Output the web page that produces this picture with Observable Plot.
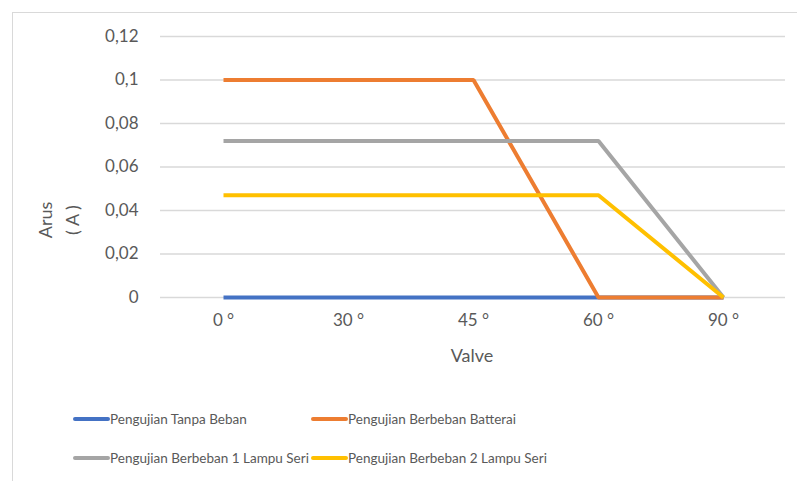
<!DOCTYPE html>
<html>
<head>
<meta charset="utf-8">
<script src="https://cdn.jsdelivr.net/npm/d3@7"></script>
<script src="https://cdn.jsdelivr.net/npm/@observablehq/plot@0.6"></script>
<style>
  html, body { margin: 0; padding: 0; background: #fff; }
  #wrap { position: relative; width: 797px; height: 481px; overflow: hidden; }
  #frame { position: absolute; left: 12px; top: 12px; width: 800px; height: 480px;
           border-left: 1.5px solid #d9d9d9; border-top: 1.5px solid #d9d9d9; }
  #chart { position: absolute; left: 0; top: 0; }
</style>
</head>
<body>
<div id="wrap"><div id="frame"></div><div id="chart"></div></div>
<script>
const angles = ["0 °", "30 °", "45 °", "60 °", "90 °"];
const seriesNames = [
  "Pengujian Tanpa Beban",
  "Pengujian Berbeban Batterai",
  "Pengujian Berbeban 1 Lampu Seri",
  "Pengujian Berbeban 2 Lampu Seri"
];
const tanpaBeban = [0, 0, 0, 0, 0];
const batterai = [0.1, 0.1, 0.1, 0, 0];
const lampu1 = [0.072, 0.072, 0.072, 0.072, 0];
const lampu2 = [0.047, 0.047, 0.047, 0.047, 0];
const seriesColors = ["#4472C4", "#ED7D31", "#A5A5A5", "#FFC000"];
const yTicks = [0, 0.02, 0.04, 0.06, 0.08, 0.1, 0.12];
const yTickLabels = ["0", "0,02", "0,04", "0,06", "0,08", "0,1", "0,12"];
const xTitle = "Valve";
const yTitle = ["Arus", "( A )"];

const allSeries = [tanpaBeban, batterai, lampu1, lampu2];
const rows = [];
allSeries.forEach((vals, si) => vals.forEach((v, i) => rows.push({series: seriesNames[si], angle: angles[i], value: v})));

const FONT = "Lato, 'Open Sans', sans-serif";
const TXT = "#595959";

const plot = Plot.plot({
  width: 797,
  height: 481,
  marginLeft: 160,
  marginRight: 12,
  marginTop: 36,
  marginBottom: 184,
  style: {fontFamily: FONT, fontSize: "17px", color: TXT, background: "transparent"},
  x: {type: "point", domain: angles, padding: 0.5, label: null},
  y: {domain: [0, 0.12], label: null},
  color: {domain: seriesNames, range: seriesColors},
  marks: [
    Plot.gridY(yTicks, {stroke: "#d9d9d9", strokeOpacity: 1, strokeWidth: 1.5}),
    Plot.axisY(yTicks, {tickSize: 0, tickPadding: 22, tickFormat: (d) => yTickLabels[yTicks.indexOf(d)], fill: TXT, fontSize: 17}),
    Plot.axisX({tickSize: 0, tickPadding: 16, fill: TXT, fontSize: 17}),
    Plot.line(rows, {x: "angle", y: "value", z: "series", stroke: "series", strokeWidth: 4, strokeLinejoin: "miter", strokeLinecap: "butt"})
  ]
});

document.getElementById("chart").appendChild(plot);

const svg = d3.select(plot);
// axis titles
svg.append("text").attr("x", 472).attr("y", 356).attr("dy", "0.35em").attr("text-anchor", "middle")
  .attr("fill", TXT).style("font-size", "18px").style("font-family", FONT).text(xTitle);
yTitle.forEach((t, i) => {
  svg.append("text").attr("transform", `translate(${46 + i * 27},220) rotate(-90)`)
    .attr("text-anchor", "middle").attr("dy", "0.35em")
    .attr("fill", TXT).style("font-size", "18px").style("font-family", FONT).text(t);
});
// legend
const legendPos = [[75, 419], [313, 419], [75, 458], [313, 458]];
seriesNames.forEach((name, i) => {
  const [lx, ly] = legendPos[i];
  svg.append("line").attr("x1", lx).attr("x2", lx + 33).attr("y1", ly).attr("y2", ly)
    .attr("stroke", seriesColors[i]).attr("stroke-width", 4).attr("stroke-linecap", "round");
  svg.append("text").attr("x", lx + 35).attr("y", ly).attr("dy", "0.35em").attr("text-anchor", "start")
    .attr("fill", TXT).style("font-size", "13.5px").style("font-family", FONT).text(name);
});
</script>
</body>
</html>
